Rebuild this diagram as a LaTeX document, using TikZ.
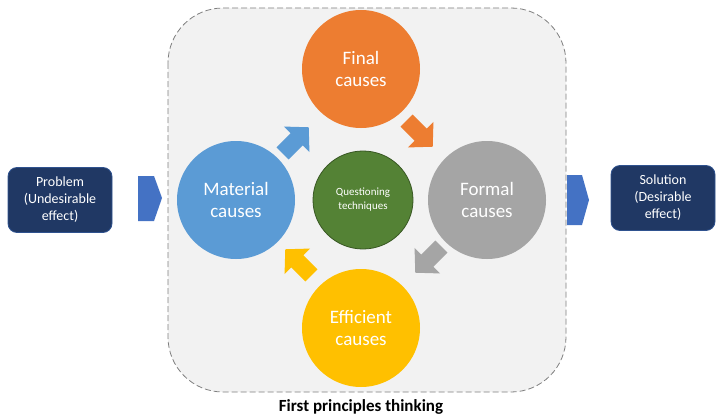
\documentclass[tikz,border=0pt]{standalone}
\usepackage{fontspec}
\usetikzlibrary{shapes.geometric}
\setmainfont{Carlito}
\definecolor{navy}{HTML}{203864}
\definecolor{navyedge}{HTML}{2F528F}
\definecolor{cblue}{HTML}{5B9BD5}
\definecolor{corange}{HTML}{ED7D31}
\definecolor{cgray}{HTML}{A5A5A5}
\definecolor{cyellow}{HTML}{FFC000}
\definecolor{cgreen}{HTML}{548235}
\definecolor{cgreenedge}{HTML}{385723}
\definecolor{chev}{HTML}{4472C4}
\definecolor{panel}{HTML}{F2F2F2}
\definecolor{panelline}{HTML}{7F7F7F}
\tikzset{
  cause/.style={circle, minimum size=118pt, inner sep=0pt, text=white, align=center, font=\fontsize{19}{22}\selectfont},
  endbox/.style={rounded corners=9pt, fill=navy, draw=navyedge, line width=0.8pt, minimum width=104pt, minimum height=65pt, text=white, align=center, font=\fontsize{14}{17}\selectfont},
  pics/blockarrow/.style={code={
    \fill[#1] (-19,-8.5) -- (1,-8.5) -- (1,-18) -- (18,0) -- (1,18) -- (1,8.5) -- (-19,8.5) -- cycle;}}
}
\begin{document}
\begin{tikzpicture}[x=1pt,y=-1pt]
\useasboundingbox (0,0) rectangle (720,420);
% panel
\draw[panelline, fill=panel, dash pattern=on 6pt off 3pt, line width=0.8pt, rounded corners=55pt]
  (168,8) rectangle (566,392);
% circles
\node[cause, fill=corange] (final) at (361,69) {Final\\causes};
\node[cause, fill=cblue] (material) at (236,200) {Material\\causes};
\node[cause, fill=cgray] (formal) at (487,200) {Formal\\causes};
\node[cause, fill=cyellow] (efficient) at (361,328) {Efficient\\causes};
\node[ellipse, fill=cgreen, draw=cgreenedge, line width=0.8pt, minimum width=100pt, minimum height=98pt, inner sep=0pt, text=white, align=center, font=\fontsize{11}{14}\selectfont] (quest) at (363,200) {Questioning\\techniques};
% block arrows
\pic[rotate=45] (a1) at (296,140) {blockarrow=cblue};
\pic[rotate=-45] (a2) at (420,134) {blockarrow=corange};
\pic[rotate=-135] (a3) at (428,260) {blockarrow=cgray};
\pic[rotate=135] (a4) at (298,262) {blockarrow=cyellow};
% end boxes
\node[endbox] (problem) at (60,200) {Problem\\(Undesirable\\effect)};
\node[endbox] (solution) at (663,198) {Solution\\(Desirable\\effect)};
% chevrons
\fill[chev] (138,176) -- (154,176) -- (162,198) -- (154,221) -- (138,221) -- cycle;
\fill[chev] (567,175) -- (582,175) -- (589,200) -- (582,225) -- (567,225) -- cycle;
% title
\node[font=\fontsize{17}{20}\selectfont\bfseries] (title) at (361,407) {First principles thinking};
\end{tikzpicture}
\end{document}
